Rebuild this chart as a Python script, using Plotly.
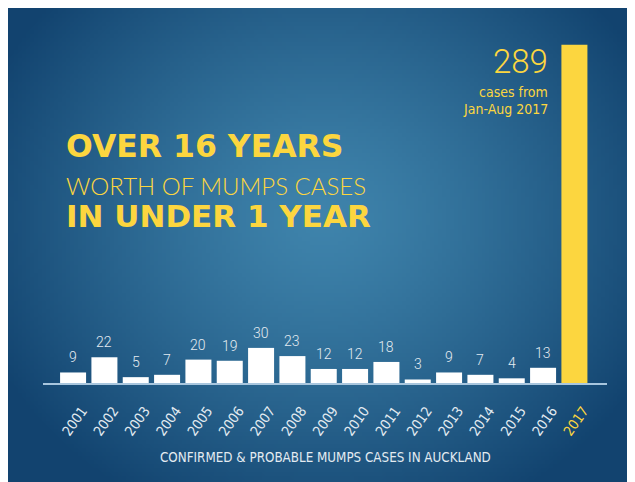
import base64, struct, zlib
import numpy as np
import plotly.graph_objects as go

years = ["2001", "2002", "2003", "2004", "2005", "2006", "2007", "2008", "2009",
         "2010", "2011", "2012", "2013", "2014", "2015", "2016", "2017"]
cases = [9, 22, 5, 7, 20, 19, 30, 23, 12, 12, 18, 3, 9, 7, 4, 13, 289]
highlight_year = "2017"

W_FIG, H_FIG = 635, 482
L, R, T, B = 35, 36, 24, 107
PW, PH = W_FIG - L - R, H_FIG - T - B

YELLOW = "#fcd63f"
BAR_WHITE = "#ffffff"
LABEL = "#e3ebf1"
COND = "Liberation Sans Narrow, DejaVu Sans Condensed, Roboto, sans-serif"


def px(x):
    return (x - L) / PW


def py(y):
    return (T + PH - y) / PH


# ---- radial gradient background (PNG) ----
def make_png(arr):
    h, w, _ = arr.shape
    raw = b"".join(b"\x00" + arr[i].tobytes() for i in range(h))

    def chunk(tag, data):
        c = struct.pack(">I", len(data)) + tag + data
        return c + struct.pack(">I", zlib.crc32(tag + data) & 0xffffffff)

    return (b"\x89PNG\r\n\x1a\n" + chunk(b"IHDR", struct.pack(">IIBBBBB", w, h, 8, 2, 0, 0, 0))
            + chunk(b"IDAT", zlib.compress(raw, 9)) + chunk(b"IEND", b""))


gw, gh = 159, 121
xs = np.linspace(0, W_FIG, gw)
ys = np.linspace(0, H_FIG, gh)
X, Y = np.meshgrid(xs, ys)
r = np.sqrt(((X - 315) / 370) ** 2 + ((Y - 210) / 330) ** 2)
t = np.clip(r, 0, 1) ** 1.3
c_in = np.array([63, 132, 172])
c_out = np.array([18, 67, 111])
img = (c_in[None, None, :] * (1 - t[..., None]) + c_out[None, None, :] * t[..., None]).astype(np.uint8)
src = "data:image/png;base64," + base64.b64encode(make_png(img)).decode()

colors = [YELLOW if y == highlight_year else BAR_WHITE for y in years]
ticktext = [f"<span style='color:{YELLOW}'>{y}</span>" if y == highlight_year else y for y in years]

fig = go.Figure(go.Bar(x=list(range(len(years))), y=cases, marker=dict(color=colors, line_width=0),
                       width=0.83, hoverinfo="skip"))

annotations = []
for i, (y, v) in enumerate(zip(years, cases)):
    if y == highlight_year:
        continue
    annotations.append(dict(x=i, y=v, xref="x", yref="y", text=str(v), showarrow=False,
                            yanchor="bottom", yshift=5,
                            font=dict(family="Roboto", size=14, color=LABEL, weight=300)))

hi = years.index(highlight_year)
annotations += [
    dict(x=hi, y=cases[hi], xref="x", yref="y", text=str(cases[hi]), showarrow=False,
         xanchor="right", yanchor="top", xshift=-24, yshift=5,
         font=dict(family="Roboto", size=33, color=YELLOW, weight=300)),
    dict(x=hi, y=cases[hi], xref="x", yref="y", text="cases from", showarrow=False,
         xanchor="right", yanchor="top", xshift=-24, yshift=-37,
         font=dict(family=COND, size=14, color=YELLOW)),
    dict(x=hi, y=cases[hi], xref="x", yref="y", text="Jan-Aug 2017", showarrow=False,
         xanchor="right", yanchor="top", xshift=-24, yshift=-54,
         font=dict(family=COND, size=14, color=YELLOW)),
    dict(x=px(56), y=py(137.5), xref="paper", yref="paper", text="OVER 16 YEARS", showarrow=False,
         xanchor="left", yanchor="middle",
         font=dict(family="DejaVu Sans", size=31.5, color=YELLOW, weight=700)),
    dict(x=px(56), y=py(177), xref="paper", yref="paper", text="WORTH OF MUMPS CASES", showarrow=False,
         xanchor="left", yanchor="middle",
         font=dict(family="Lato", size=24, color=YELLOW, weight=300)),
    dict(x=px(56), y=py(207.5), xref="paper", yref="paper", text="IN UNDER 1 YEAR", showarrow=False,
         xanchor="left", yanchor="middle",
         font=dict(family="DejaVu Sans", size=31, color=YELLOW, weight=700)),
    dict(x=px(317), y=py(450), xref="paper", yref="paper",
         text="CONFIRMED &amp; PROBABLE MUMPS CASES IN AUCKLAND", showarrow=False,
         xanchor="center", yanchor="middle",
         font=dict(family=COND, size=13.3, color=LABEL)),
]

fig.update_layout(
    width=W_FIG, height=H_FIG,
    margin=dict(l=L, r=R, t=T, b=B, pad=0),
    paper_bgcolor="#12436f", plot_bgcolor="rgba(0,0,0,0)",
    showlegend=False,
    images=[dict(source=src, xref="paper", yref="paper", x=px(0), y=py(0),
                 sizex=px(W_FIG) - px(0), sizey=py(0) - py(H_FIG),
                 xanchor="left", yanchor="top", sizing="stretch", layer="below")],
    xaxis=dict(range=[-0.96, 17.04], tickmode="array", tickvals=list(range(len(years))),
               ticktext=ticktext, tickangle=-55, showgrid=False, zeroline=False,
               showline=True, linecolor="#a8c6de", linewidth=2, ticks="",
               tickfont=dict(family=COND, size=14, color=LABEL),
               ticklabelstandoff=12, ticklabelshift=9, fixedrange=True),
    yaxis=dict(range=[0, 300], visible=False, fixedrange=True),
    annotations=annotations,
)

fig.write_html("out.html")
